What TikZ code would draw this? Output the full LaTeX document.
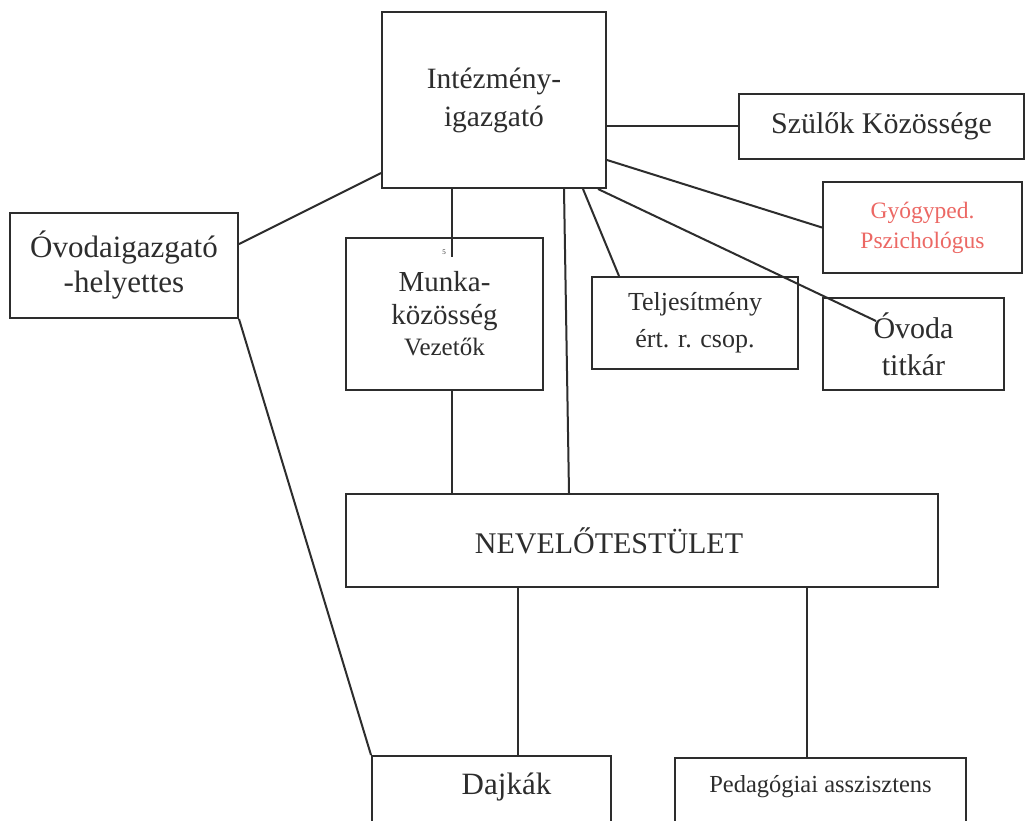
\documentclass[tikz,border=0pt]{standalone}
\usepackage{fontspec}
\setmainfont{Liberation Serif}
\usetikzlibrary{calc}
\definecolor{ink}{RGB}{45,45,45}
\definecolor{redtxt}{RGB}{236,104,100}
\tikzset{
  box/.style={draw=ink, line width=2pt, rectangle, inner sep=0pt, align=center, text=ink},
  conn/.style={draw=ink, line width=2pt},
}
\begin{document}
\begin{tikzpicture}[x=1pt,y=-1pt]
\clip (0,0) rectangle (1028,820);
\fill[white] (0,0) rectangle (1028,820);
% nodes
\node[box, minimum width=224pt, minimum height=176pt, font=\fontsize{29.5}{38}\selectfont] (int) at (494,100) {Intézmény-\\igazgató};
\node[box, minimum width=285pt, minimum height=65pt, font=\fontsize{30}{36}\selectfont] (sz) at (881.5,126) {Szülők Közössége};
\node[box, text=redtxt, minimum width=199pt, minimum height=91pt, font=\fontsize{23.5}{30}\selectfont] (gy) at (922.5,227.5) {Gyógyped.\\Pszichológus};
\node[box, minimum width=228pt, minimum height=105pt, font=\fontsize{31}{35}\selectfont] (ovh) at (124,265.5) {Óvodaigazgató\\-helyettes};
\node[box, minimum width=197pt, minimum height=152pt, font=\fontsize{29}{33}\selectfont] (mk) at (444.5,314) {Munka-\\közösség\\[-2pt]{\fontsize{25}{28}\selectfont Vezetők}};
\node[box, minimum width=206pt, minimum height=92pt, font=\fontsize{26}{37}\selectfont] (tel) at (695,323) {Teljesítmény\\ért. r. csop.};
\node[box, minimum width=181pt, minimum height=92pt, font=\fontsize{30}{37}\selectfont] (ot) at (913.5,344) {Óvoda\\titkár};
\node[box, minimum width=592pt, minimum height=93pt, font=\fontsize{30}{36}\selectfont] (nev) at (642,540.5) {NEVELŐTESTÜLET\hspace*{66pt}};
\node[box, anchor=north, minimum width=239pt, inner ysep=14pt, text height=24pt, text depth=100pt, font=\fontsize{31}{36}\selectfont] (dj) at (491.5,755) {\hspace*{30pt}Dajkák};
\node[box, anchor=north, minimum width=291pt, inner ysep=14pt, text height=20pt, text depth=100pt, font=\fontsize{24.5}{28}\selectfont] (ped) at (820.5,757) {Pedagógiai asszisztens};
\node[text=ink, font=\fontsize{7}{8}\selectfont, inner sep=0pt] (five) at (444,252) {5};
% helper coordinates
\coordinate (mkx) at ($(mk.north west)+(107,0)$);
\coordinate (nevx) at ($(nev.north west)+(224,0)$);
\coordinate (djx) at ($(dj.north west)+(147,0)$);
\coordinate (pedx) at ($(ped.north west)+(133,0)$);
% connectors
\draw[conn] (int.east |- sz.west) -- (sz.west);
\draw[conn] ($(int.south east)+(0,-29)$) -- (gy.west);
\draw[conn] ($(int.south east)+(-24,0)$) -- ($(tel.north west)+(28,0)$);
\draw[conn] ($(int.south east)+(-9,0)$) -- ($(ot.north west)+(54,24)$);
\draw[conn] ($(int.south west)+(0,-16)$) -- ($(ovh.north east)+(0,32)$);
\draw[conn] (int.south -| mkx) -- ($(mkx)+(0,20)$);
\draw[conn] ($(int.south west)+(183,0)$) -- (nevx);
\draw[conn] (mk.south -| mkx) -- (nev.north -| mkx);
\draw[conn] (ovh.south east) -- (dj.north west);
\draw[conn] (nev.south -| djx) -- (djx);
\draw[conn] (nev.south -| pedx) -- (pedx);
\end{tikzpicture}
\end{document}
